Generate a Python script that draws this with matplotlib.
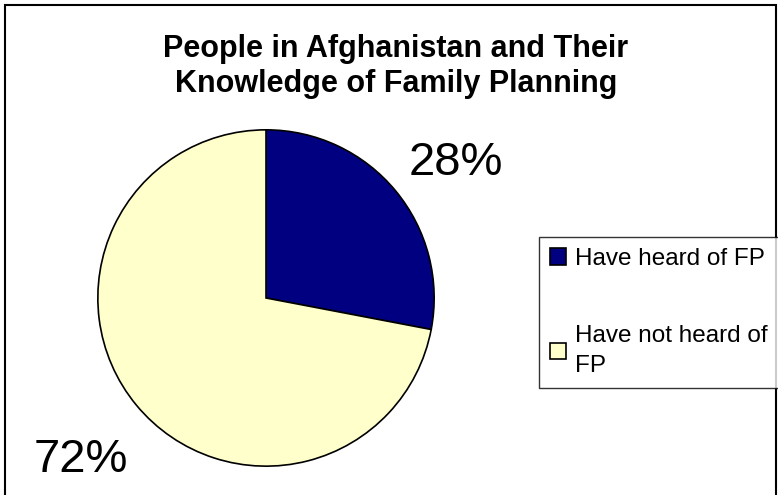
import matplotlib
matplotlib.use('Agg')
import matplotlib.pyplot as plt
from matplotlib.patches import Rectangle

plt.rcParams['font.family'] = ['Liberation Sans', 'DejaVu Sans']

# data
labels = ['Have heard of FP', 'Have not heard of\nFP']
values = [28, 72]
colors = ['#000080', '#FFFFCC']
pct_text = ['28%', '72%']
title_lines = ['People in Afghanistan and Their', 'Knowledge of Family Planning']

W, H = 778, 495
fig = plt.figure(figsize=(W / 100, H / 100), dpi=100)

# outer border of the chart area
fig.patches.append(Rectangle((5 / W, -0.01), 771 / W, 1 - 5 / H + 0.01,
                             transform=fig.transFigure, fill=False,
                             edgecolor='black', linewidth=1.5))

# pie axes (centre ~ (266, 298) px, radius ~169 px)
ax = fig.add_axes([97 / W, (H - 467) / H, 338 / W, 338 / H])
wedges, _ = ax.pie(values, colors=colors, startangle=90, counterclock=False,
                   wedgeprops=dict(edgecolor='black', linewidth=1.2))
ax.set_xlim(-1.005, 1.005)
ax.set_ylim(-1.005, 1.005)
ax.set_aspect('equal')

# title, one line at a time
fig.text(396 / W, 1 - 57 / H, title_lines[0], ha='center', va='baseline',
         fontsize=22, fontweight='bold')
fig.text(396 / W, 1 - 92 / H, title_lines[1], ha='center', va='baseline',
         fontsize=22, fontweight='bold')

# percentage labels
fig.text(456 / W, 1 - 175 / H, pct_text[0], ha='center', va='baseline', fontsize=34)
fig.text(81 / W, 1 - 472 / H, pct_text[1], ha='center', va='baseline', fontsize=34)

leg = fig.legend(wedges, labels, loc='upper left',
                 bbox_to_anchor=(539 / W, 1 - 237 / H), borderaxespad=0,
                 fontsize=17.5, frameon=True, fancybox=False, edgecolor='black',
                 handlelength=0.65, handleheight=0.65, handletextpad=0.4,
                 labelspacing=2.25, borderpad=0.45)
leg.get_frame().set_linewidth(1.0)
for t in leg.get_texts():
    t.set_linespacing(1.5)

fig.savefig('out.png', dpi=100)
